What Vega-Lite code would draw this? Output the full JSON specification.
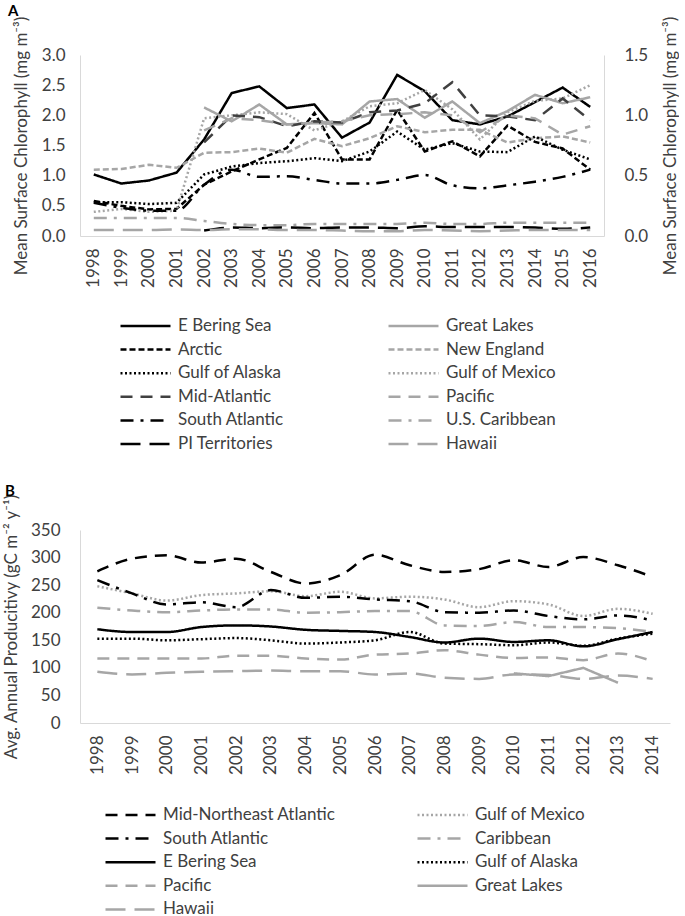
{
  "$schema": "https://vega.github.io/schema/vega-lite/v6.json",
  "padding": {"left": 2, "top": 4, "right": 0, "bottom": 0},
  "spacing": 30,
  "config": {
    "font": "Lato",
    "view": {"stroke": null},
    "axis": {"domainColor": "#d9d9d9", "domainWidth": 1, "ticks": false, "grid": false, "labelFont": "Lato", "labelFontSize": 17, "labelColor": "#404040", "titleFont": "Lato", "titleFontSize": 17, "titleFontWeight": "normal", "titleColor": "#404040"},
    "legend": {"labelFont": "Lato", "labelFontSize": 17, "labelColor": "#404040", "symbolType": "stroke", "symbolSize": 2500, "symbolStrokeWidth": 2.5, "labelOffset": 6, "rowPadding": 5.6, "clipHeight": 18, "labelLimit": 300},
    "title": {"font": "Lato", "fontSize": 15, "fontWeight": "bold", "color": "#000000"}
  },
  "datasets": {
    "A": [
      {"Region": "E Bering Sea", "Year": 1998, "Chl": 1.02, "Side": "L"}, {"Region": "E Bering Sea", "Year": 1999, "Chl": 0.87, "Side": "L"}, {"Region": "E Bering Sea", "Year": 2000, "Chl": 0.92, "Side": "L"}, {"Region": "E Bering Sea", "Year": 2001, "Chl": 1.05, "Side": "L"}, {"Region": "E Bering Sea", "Year": 2002, "Chl": 1.6, "Side": "L"}, {"Region": "E Bering Sea", "Year": 2003, "Chl": 2.37, "Side": "L"}, {"Region": "E Bering Sea", "Year": 2004, "Chl": 2.48, "Side": "L"}, {"Region": "E Bering Sea", "Year": 2005, "Chl": 2.12, "Side": "L"}, {"Region": "E Bering Sea", "Year": 2006, "Chl": 2.18, "Side": "L"}, {"Region": "E Bering Sea", "Year": 2007, "Chl": 1.63, "Side": "L"}, {"Region": "E Bering Sea", "Year": 2008, "Chl": 1.88, "Side": "L"}, {"Region": "E Bering Sea", "Year": 2009, "Chl": 2.67, "Side": "L"}, {"Region": "E Bering Sea", "Year": 2010, "Chl": 2.4, "Side": "L"}, {"Region": "E Bering Sea", "Year": 2011, "Chl": 1.92, "Side": "L"}, {"Region": "E Bering Sea", "Year": 2012, "Chl": 1.85, "Side": "L"}, {"Region": "E Bering Sea", "Year": 2013, "Chl": 1.98, "Side": "L"}, {"Region": "E Bering Sea", "Year": 2014, "Chl": 2.22, "Side": "L"}, {"Region": "E Bering Sea", "Year": 2015, "Chl": 2.46, "Side": "L"}, {"Region": "E Bering Sea", "Year": 2016, "Chl": 2.14, "Side": "L"},
      {"Region": "Great Lakes", "Year": 2002, "Chl": 2.13, "Side": "L"}, {"Region": "Great Lakes", "Year": 2003, "Chl": 1.9, "Side": "L"}, {"Region": "Great Lakes", "Year": 2004, "Chl": 2.18, "Side": "L"}, {"Region": "Great Lakes", "Year": 2005, "Chl": 1.85, "Side": "L"}, {"Region": "Great Lakes", "Year": 2006, "Chl": 1.87, "Side": "L"}, {"Region": "Great Lakes", "Year": 2007, "Chl": 1.85, "Side": "L"}, {"Region": "Great Lakes", "Year": 2008, "Chl": 2.23, "Side": "L"}, {"Region": "Great Lakes", "Year": 2009, "Chl": 2.27, "Side": "L"}, {"Region": "Great Lakes", "Year": 2010, "Chl": 1.96, "Side": "L"}, {"Region": "Great Lakes", "Year": 2011, "Chl": 2.23, "Side": "L"}, {"Region": "Great Lakes", "Year": 2012, "Chl": 1.87, "Side": "L"}, {"Region": "Great Lakes", "Year": 2013, "Chl": 2.07, "Side": "L"}, {"Region": "Great Lakes", "Year": 2014, "Chl": 2.34, "Side": "L"}, {"Region": "Great Lakes", "Year": 2015, "Chl": 2.2, "Side": "L"}, {"Region": "Great Lakes", "Year": 2016, "Chl": 2.3, "Side": "L"},
      {"Region": "Arctic", "Year": 1998, "Chl": 0.58, "Side": "L"}, {"Region": "Arctic", "Year": 1999, "Chl": 0.5, "Side": "L"}, {"Region": "Arctic", "Year": 2000, "Chl": 0.44, "Side": "L"}, {"Region": "Arctic", "Year": 2001, "Chl": 0.45, "Side": "L"}, {"Region": "Arctic", "Year": 2002, "Chl": 0.85, "Side": "L"}, {"Region": "Arctic", "Year": 2003, "Chl": 1.07, "Side": "L"}, {"Region": "Arctic", "Year": 2004, "Chl": 1.27, "Side": "L"}, {"Region": "Arctic", "Year": 2005, "Chl": 1.46, "Side": "L"}, {"Region": "Arctic", "Year": 2006, "Chl": 2.04, "Side": "L"}, {"Region": "Arctic", "Year": 2007, "Chl": 1.27, "Side": "L"}, {"Region": "Arctic", "Year": 2008, "Chl": 1.27, "Side": "L"}, {"Region": "Arctic", "Year": 2009, "Chl": 2.09, "Side": "L"}, {"Region": "Arctic", "Year": 2010, "Chl": 1.4, "Side": "L"}, {"Region": "Arctic", "Year": 2011, "Chl": 1.57, "Side": "L"}, {"Region": "Arctic", "Year": 2012, "Chl": 1.32, "Side": "L"}, {"Region": "Arctic", "Year": 2013, "Chl": 1.83, "Side": "L"}, {"Region": "Arctic", "Year": 2014, "Chl": 1.56, "Side": "L"}, {"Region": "Arctic", "Year": 2015, "Chl": 1.45, "Side": "L"}, {"Region": "Arctic", "Year": 2016, "Chl": 1.1, "Side": "L"},
      {"Region": "New England", "Year": 1998, "Chl": 1.1, "Side": "L"}, {"Region": "New England", "Year": 1999, "Chl": 1.11, "Side": "L"}, {"Region": "New England", "Year": 2000, "Chl": 1.18, "Side": "L"}, {"Region": "New England", "Year": 2001, "Chl": 1.13, "Side": "L"}, {"Region": "New England", "Year": 2002, "Chl": 1.38, "Side": "L"}, {"Region": "New England", "Year": 2003, "Chl": 1.39, "Side": "L"}, {"Region": "New England", "Year": 2004, "Chl": 1.45, "Side": "L"}, {"Region": "New England", "Year": 2005, "Chl": 1.38, "Side": "L"}, {"Region": "New England", "Year": 2006, "Chl": 1.61, "Side": "L"}, {"Region": "New England", "Year": 2007, "Chl": 1.49, "Side": "L"}, {"Region": "New England", "Year": 2008, "Chl": 1.62, "Side": "L"}, {"Region": "New England", "Year": 2009, "Chl": 1.82, "Side": "L"}, {"Region": "New England", "Year": 2010, "Chl": 1.72, "Side": "L"}, {"Region": "New England", "Year": 2011, "Chl": 1.76, "Side": "L"}, {"Region": "New England", "Year": 2012, "Chl": 1.76, "Side": "L"}, {"Region": "New England", "Year": 2013, "Chl": 1.55, "Side": "L"}, {"Region": "New England", "Year": 2014, "Chl": 1.62, "Side": "L"}, {"Region": "New England", "Year": 2015, "Chl": 1.65, "Side": "L"}, {"Region": "New England", "Year": 2016, "Chl": 1.55, "Side": "L"},
      {"Region": "Gulf of Alaska", "Year": 1998, "Chl": 0.56, "Side": "L"}, {"Region": "Gulf of Alaska", "Year": 1999, "Chl": 0.56, "Side": "L"}, {"Region": "Gulf of Alaska", "Year": 2000, "Chl": 0.53, "Side": "L"}, {"Region": "Gulf of Alaska", "Year": 2001, "Chl": 0.55, "Side": "L"}, {"Region": "Gulf of Alaska", "Year": 2002, "Chl": 1.02, "Side": "L"}, {"Region": "Gulf of Alaska", "Year": 2003, "Chl": 1.15, "Side": "L"}, {"Region": "Gulf of Alaska", "Year": 2004, "Chl": 1.21, "Side": "L"}, {"Region": "Gulf of Alaska", "Year": 2005, "Chl": 1.24, "Side": "L"}, {"Region": "Gulf of Alaska", "Year": 2006, "Chl": 1.29, "Side": "L"}, {"Region": "Gulf of Alaska", "Year": 2007, "Chl": 1.24, "Side": "L"}, {"Region": "Gulf of Alaska", "Year": 2008, "Chl": 1.4, "Side": "L"}, {"Region": "Gulf of Alaska", "Year": 2009, "Chl": 1.73, "Side": "L"}, {"Region": "Gulf of Alaska", "Year": 2010, "Chl": 1.43, "Side": "L"}, {"Region": "Gulf of Alaska", "Year": 2011, "Chl": 1.54, "Side": "L"}, {"Region": "Gulf of Alaska", "Year": 2012, "Chl": 1.4, "Side": "L"}, {"Region": "Gulf of Alaska", "Year": 2013, "Chl": 1.39, "Side": "L"}, {"Region": "Gulf of Alaska", "Year": 2014, "Chl": 1.65, "Side": "L"}, {"Region": "Gulf of Alaska", "Year": 2015, "Chl": 1.43, "Side": "L"}, {"Region": "Gulf of Alaska", "Year": 2016, "Chl": 1.27, "Side": "L"},
      {"Region": "Gulf of Mexico", "Year": 1998, "Chl": 0.4, "Side": "L"}, {"Region": "Gulf of Mexico", "Year": 1999, "Chl": 0.45, "Side": "L"}, {"Region": "Gulf of Mexico", "Year": 2000, "Chl": 0.4, "Side": "L"}, {"Region": "Gulf of Mexico", "Year": 2001, "Chl": 0.42, "Side": "L"}, {"Region": "Gulf of Mexico", "Year": 2002, "Chl": 1.95, "Side": "L"}, {"Region": "Gulf of Mexico", "Year": 2003, "Chl": 2.0, "Side": "L"}, {"Region": "Gulf of Mexico", "Year": 2004, "Chl": 2.05, "Side": "L"}, {"Region": "Gulf of Mexico", "Year": 2005, "Chl": 2.02, "Side": "L"}, {"Region": "Gulf of Mexico", "Year": 2006, "Chl": 1.75, "Side": "L"}, {"Region": "Gulf of Mexico", "Year": 2007, "Chl": 1.9, "Side": "L"}, {"Region": "Gulf of Mexico", "Year": 2008, "Chl": 2.15, "Side": "L"}, {"Region": "Gulf of Mexico", "Year": 2009, "Chl": 2.2, "Side": "L"}, {"Region": "Gulf of Mexico", "Year": 2010, "Chl": 2.42, "Side": "L"}, {"Region": "Gulf of Mexico", "Year": 2011, "Chl": 2.1, "Side": "L"}, {"Region": "Gulf of Mexico", "Year": 2012, "Chl": 1.6, "Side": "L"}, {"Region": "Gulf of Mexico", "Year": 2013, "Chl": 2.05, "Side": "L"}, {"Region": "Gulf of Mexico", "Year": 2014, "Chl": 2.24, "Side": "L"}, {"Region": "Gulf of Mexico", "Year": 2015, "Chl": 2.28, "Side": "L"}, {"Region": "Gulf of Mexico", "Year": 2016, "Chl": 2.5, "Side": "L"},
      {"Region": "Mid-Atlantic", "Year": 2002, "Chl": 1.55, "Side": "L"}, {"Region": "Mid-Atlantic", "Year": 2003, "Chl": 2.0, "Side": "L"}, {"Region": "Mid-Atlantic", "Year": 2004, "Chl": 1.97, "Side": "L"}, {"Region": "Mid-Atlantic", "Year": 2005, "Chl": 1.82, "Side": "L"}, {"Region": "Mid-Atlantic", "Year": 2006, "Chl": 1.9, "Side": "L"}, {"Region": "Mid-Atlantic", "Year": 2007, "Chl": 1.88, "Side": "L"}, {"Region": "Mid-Atlantic", "Year": 2008, "Chl": 2.05, "Side": "L"}, {"Region": "Mid-Atlantic", "Year": 2009, "Chl": 2.08, "Side": "L"}, {"Region": "Mid-Atlantic", "Year": 2010, "Chl": 2.2, "Side": "L"}, {"Region": "Mid-Atlantic", "Year": 2011, "Chl": 2.55, "Side": "L"}, {"Region": "Mid-Atlantic", "Year": 2012, "Chl": 2.0, "Side": "L"}, {"Region": "Mid-Atlantic", "Year": 2013, "Chl": 1.98, "Side": "L"}, {"Region": "Mid-Atlantic", "Year": 2014, "Chl": 1.92, "Side": "L"}, {"Region": "Mid-Atlantic", "Year": 2015, "Chl": 2.28, "Side": "L"}, {"Region": "Mid-Atlantic", "Year": 2016, "Chl": 1.92, "Side": "L"},
      {"Region": "Pacific", "Year": 2002, "Chl": 1.75, "Side": "L"}, {"Region": "Pacific", "Year": 2003, "Chl": 1.95, "Side": "L"}, {"Region": "Pacific", "Year": 2004, "Chl": 1.92, "Side": "L"}, {"Region": "Pacific", "Year": 2005, "Chl": 1.85, "Side": "L"}, {"Region": "Pacific", "Year": 2006, "Chl": 1.88, "Side": "L"}, {"Region": "Pacific", "Year": 2007, "Chl": 1.9, "Side": "L"}, {"Region": "Pacific", "Year": 2008, "Chl": 2.0, "Side": "L"}, {"Region": "Pacific", "Year": 2009, "Chl": 2.02, "Side": "L"}, {"Region": "Pacific", "Year": 2010, "Chl": 2.05, "Side": "L"}, {"Region": "Pacific", "Year": 2011, "Chl": 2.0, "Side": "L"}, {"Region": "Pacific", "Year": 2012, "Chl": 1.72, "Side": "L"}, {"Region": "Pacific", "Year": 2013, "Chl": 2.0, "Side": "L"}, {"Region": "Pacific", "Year": 2014, "Chl": 1.95, "Side": "L"}, {"Region": "Pacific", "Year": 2015, "Chl": 1.68, "Side": "L"}, {"Region": "Pacific", "Year": 2016, "Chl": 1.82, "Side": "L"},
      {"Region": "South Atlantic", "Year": 1998, "Chl": 0.55, "Side": "L"}, {"Region": "South Atlantic", "Year": 1999, "Chl": 0.47, "Side": "L"}, {"Region": "South Atlantic", "Year": 2000, "Chl": 0.42, "Side": "L"}, {"Region": "South Atlantic", "Year": 2001, "Chl": 0.42, "Side": "L"}, {"Region": "South Atlantic", "Year": 2002, "Chl": 0.85, "Side": "L"}, {"Region": "South Atlantic", "Year": 2003, "Chl": 1.1, "Side": "L"}, {"Region": "South Atlantic", "Year": 2004, "Chl": 0.98, "Side": "L"}, {"Region": "South Atlantic", "Year": 2005, "Chl": 0.99, "Side": "L"}, {"Region": "South Atlantic", "Year": 2006, "Chl": 0.93, "Side": "L"}, {"Region": "South Atlantic", "Year": 2007, "Chl": 0.87, "Side": "L"}, {"Region": "South Atlantic", "Year": 2008, "Chl": 0.87, "Side": "L"}, {"Region": "South Atlantic", "Year": 2009, "Chl": 0.93, "Side": "L"}, {"Region": "South Atlantic", "Year": 2010, "Chl": 1.01, "Side": "L"}, {"Region": "South Atlantic", "Year": 2011, "Chl": 0.84, "Side": "L"}, {"Region": "South Atlantic", "Year": 2012, "Chl": 0.79, "Side": "L"}, {"Region": "South Atlantic", "Year": 2013, "Chl": 0.84, "Side": "L"}, {"Region": "South Atlantic", "Year": 2014, "Chl": 0.9, "Side": "L"}, {"Region": "South Atlantic", "Year": 2015, "Chl": 0.98, "Side": "L"}, {"Region": "South Atlantic", "Year": 2016, "Chl": 1.1, "Side": "L"},
      {"Region": "U.S. Caribbean", "Year": 1998, "Chl": 0.15, "Side": "R"}, {"Region": "U.S. Caribbean", "Year": 1999, "Chl": 0.15, "Side": "R"}, {"Region": "U.S. Caribbean", "Year": 2000, "Chl": 0.15, "Side": "R"}, {"Region": "U.S. Caribbean", "Year": 2001, "Chl": 0.15, "Side": "R"}, {"Region": "U.S. Caribbean", "Year": 2002, "Chl": 0.125, "Side": "R"}, {"Region": "U.S. Caribbean", "Year": 2003, "Chl": 0.1, "Side": "R"}, {"Region": "U.S. Caribbean", "Year": 2004, "Chl": 0.09, "Side": "R"}, {"Region": "U.S. Caribbean", "Year": 2005, "Chl": 0.09, "Side": "R"}, {"Region": "U.S. Caribbean", "Year": 2006, "Chl": 0.1, "Side": "R"}, {"Region": "U.S. Caribbean", "Year": 2007, "Chl": 0.1, "Side": "R"}, {"Region": "U.S. Caribbean", "Year": 2008, "Chl": 0.1, "Side": "R"}, {"Region": "U.S. Caribbean", "Year": 2009, "Chl": 0.1, "Side": "R"}, {"Region": "U.S. Caribbean", "Year": 2010, "Chl": 0.11, "Side": "R"}, {"Region": "U.S. Caribbean", "Year": 2011, "Chl": 0.1, "Side": "R"}, {"Region": "U.S. Caribbean", "Year": 2012, "Chl": 0.1, "Side": "R"}, {"Region": "U.S. Caribbean", "Year": 2013, "Chl": 0.11, "Side": "R"}, {"Region": "U.S. Caribbean", "Year": 2014, "Chl": 0.11, "Side": "R"}, {"Region": "U.S. Caribbean", "Year": 2015, "Chl": 0.11, "Side": "R"}, {"Region": "U.S. Caribbean", "Year": 2016, "Chl": 0.11, "Side": "R"},
      {"Region": "PI Territories", "Year": 2002, "Chl": 0.045, "Side": "R"}, {"Region": "PI Territories", "Year": 2003, "Chl": 0.07, "Side": "R"}, {"Region": "PI Territories", "Year": 2004, "Chl": 0.065, "Side": "R"}, {"Region": "PI Territories", "Year": 2005, "Chl": 0.07, "Side": "R"}, {"Region": "PI Territories", "Year": 2006, "Chl": 0.065, "Side": "R"}, {"Region": "PI Territories", "Year": 2007, "Chl": 0.07, "Side": "R"}, {"Region": "PI Territories", "Year": 2008, "Chl": 0.07, "Side": "R"}, {"Region": "PI Territories", "Year": 2009, "Chl": 0.065, "Side": "R"}, {"Region": "PI Territories", "Year": 2010, "Chl": 0.08, "Side": "R"}, {"Region": "PI Territories", "Year": 2011, "Chl": 0.075, "Side": "R"}, {"Region": "PI Territories", "Year": 2012, "Chl": 0.075, "Side": "R"}, {"Region": "PI Territories", "Year": 2013, "Chl": 0.075, "Side": "R"}, {"Region": "PI Territories", "Year": 2014, "Chl": 0.07, "Side": "R"}, {"Region": "PI Territories", "Year": 2015, "Chl": 0.06, "Side": "R"}, {"Region": "PI Territories", "Year": 2016, "Chl": 0.07, "Side": "R"},
      {"Region": "Hawaii", "Year": 1998, "Chl": 0.05, "Side": "R"}, {"Region": "Hawaii", "Year": 1999, "Chl": 0.05, "Side": "R"}, {"Region": "Hawaii", "Year": 2000, "Chl": 0.05, "Side": "R"}, {"Region": "Hawaii", "Year": 2001, "Chl": 0.055, "Side": "R"}, {"Region": "Hawaii", "Year": 2002, "Chl": 0.05, "Side": "R"}, {"Region": "Hawaii", "Year": 2003, "Chl": 0.055, "Side": "R"}, {"Region": "Hawaii", "Year": 2004, "Chl": 0.055, "Side": "R"}, {"Region": "Hawaii", "Year": 2005, "Chl": 0.05, "Side": "R"}, {"Region": "Hawaii", "Year": 2006, "Chl": 0.05, "Side": "R"}, {"Region": "Hawaii", "Year": 2007, "Chl": 0.045, "Side": "R"}, {"Region": "Hawaii", "Year": 2008, "Chl": 0.04, "Side": "R"}, {"Region": "Hawaii", "Year": 2009, "Chl": 0.04, "Side": "R"}, {"Region": "Hawaii", "Year": 2010, "Chl": 0.05, "Side": "R"}, {"Region": "Hawaii", "Year": 2011, "Chl": 0.045, "Side": "R"}, {"Region": "Hawaii", "Year": 2012, "Chl": 0.04, "Side": "R"}, {"Region": "Hawaii", "Year": 2013, "Chl": 0.045, "Side": "R"}, {"Region": "Hawaii", "Year": 2014, "Chl": 0.05, "Side": "R"}, {"Region": "Hawaii", "Year": 2015, "Chl": 0.05, "Side": "R"}, {"Region": "Hawaii", "Year": 2016, "Chl": 0.05, "Side": "R"}
    ],
    "B": [
      {"Area": "Mid-Northeast Atlantic", "Year": 1998, "NPP": 275}, {"Area": "Mid-Northeast Atlantic", "Year": 1999, "NPP": 298}, {"Area": "Mid-Northeast Atlantic", "Year": 2000, "NPP": 304}, {"Area": "Mid-Northeast Atlantic", "Year": 2001, "NPP": 291}, {"Area": "Mid-Northeast Atlantic", "Year": 2002, "NPP": 298}, {"Area": "Mid-Northeast Atlantic", "Year": 2003, "NPP": 274}, {"Area": "Mid-Northeast Atlantic", "Year": 2004, "NPP": 253}, {"Area": "Mid-Northeast Atlantic", "Year": 2005, "NPP": 268}, {"Area": "Mid-Northeast Atlantic", "Year": 2006, "NPP": 305}, {"Area": "Mid-Northeast Atlantic", "Year": 2007, "NPP": 286}, {"Area": "Mid-Northeast Atlantic", "Year": 2008, "NPP": 274}, {"Area": "Mid-Northeast Atlantic", "Year": 2009, "NPP": 279}, {"Area": "Mid-Northeast Atlantic", "Year": 2010, "NPP": 295}, {"Area": "Mid-Northeast Atlantic", "Year": 2011, "NPP": 283}, {"Area": "Mid-Northeast Atlantic", "Year": 2012, "NPP": 301}, {"Area": "Mid-Northeast Atlantic", "Year": 2013, "NPP": 286}, {"Area": "Mid-Northeast Atlantic", "Year": 2014, "NPP": 265},
      {"Area": "Gulf of Mexico", "Year": 1998, "NPP": 248}, {"Area": "Gulf of Mexico", "Year": 1999, "NPP": 235}, {"Area": "Gulf of Mexico", "Year": 2000, "NPP": 222}, {"Area": "Gulf of Mexico", "Year": 2001, "NPP": 232}, {"Area": "Gulf of Mexico", "Year": 2002, "NPP": 235}, {"Area": "Gulf of Mexico", "Year": 2003, "NPP": 239}, {"Area": "Gulf of Mexico", "Year": 2004, "NPP": 230}, {"Area": "Gulf of Mexico", "Year": 2005, "NPP": 238}, {"Area": "Gulf of Mexico", "Year": 2006, "NPP": 226}, {"Area": "Gulf of Mexico", "Year": 2007, "NPP": 229}, {"Area": "Gulf of Mexico", "Year": 2008, "NPP": 224}, {"Area": "Gulf of Mexico", "Year": 2009, "NPP": 210}, {"Area": "Gulf of Mexico", "Year": 2010, "NPP": 221}, {"Area": "Gulf of Mexico", "Year": 2011, "NPP": 215}, {"Area": "Gulf of Mexico", "Year": 2012, "NPP": 194}, {"Area": "Gulf of Mexico", "Year": 2013, "NPP": 207}, {"Area": "Gulf of Mexico", "Year": 2014, "NPP": 198},
      {"Area": "South Atlantic", "Year": 1998, "NPP": 259}, {"Area": "South Atlantic", "Year": 1999, "NPP": 235}, {"Area": "South Atlantic", "Year": 2000, "NPP": 215}, {"Area": "South Atlantic", "Year": 2001, "NPP": 219}, {"Area": "South Atlantic", "Year": 2002, "NPP": 210}, {"Area": "South Atlantic", "Year": 2003, "NPP": 241}, {"Area": "South Atlantic", "Year": 2004, "NPP": 227}, {"Area": "South Atlantic", "Year": 2005, "NPP": 229}, {"Area": "South Atlantic", "Year": 2006, "NPP": 224}, {"Area": "South Atlantic", "Year": 2007, "NPP": 221}, {"Area": "South Atlantic", "Year": 2008, "NPP": 201}, {"Area": "South Atlantic", "Year": 2009, "NPP": 200}, {"Area": "South Atlantic", "Year": 2010, "NPP": 204}, {"Area": "South Atlantic", "Year": 2011, "NPP": 194}, {"Area": "South Atlantic", "Year": 2012, "NPP": 188}, {"Area": "South Atlantic", "Year": 2013, "NPP": 195}, {"Area": "South Atlantic", "Year": 2014, "NPP": 186},
      {"Area": "Caribbean", "Year": 1998, "NPP": 209}, {"Area": "Caribbean", "Year": 1999, "NPP": 204}, {"Area": "Caribbean", "Year": 2000, "NPP": 201}, {"Area": "Caribbean", "Year": 2001, "NPP": 204}, {"Area": "Caribbean", "Year": 2002, "NPP": 206}, {"Area": "Caribbean", "Year": 2003, "NPP": 206}, {"Area": "Caribbean", "Year": 2004, "NPP": 200}, {"Area": "Caribbean", "Year": 2005, "NPP": 201}, {"Area": "Caribbean", "Year": 2006, "NPP": 203}, {"Area": "Caribbean", "Year": 2007, "NPP": 203}, {"Area": "Caribbean", "Year": 2008, "NPP": 177}, {"Area": "Caribbean", "Year": 2009, "NPP": 176}, {"Area": "Caribbean", "Year": 2010, "NPP": 183}, {"Area": "Caribbean", "Year": 2011, "NPP": 174}, {"Area": "Caribbean", "Year": 2012, "NPP": 174}, {"Area": "Caribbean", "Year": 2013, "NPP": 172}, {"Area": "Caribbean", "Year": 2014, "NPP": 165},
      {"Area": "E Bering Sea", "Year": 1998, "NPP": 170}, {"Area": "E Bering Sea", "Year": 1999, "NPP": 165}, {"Area": "E Bering Sea", "Year": 2000, "NPP": 165}, {"Area": "E Bering Sea", "Year": 2001, "NPP": 174}, {"Area": "E Bering Sea", "Year": 2002, "NPP": 177}, {"Area": "E Bering Sea", "Year": 2003, "NPP": 175}, {"Area": "E Bering Sea", "Year": 2004, "NPP": 169}, {"Area": "E Bering Sea", "Year": 2005, "NPP": 167}, {"Area": "E Bering Sea", "Year": 2006, "NPP": 165}, {"Area": "E Bering Sea", "Year": 2007, "NPP": 156}, {"Area": "E Bering Sea", "Year": 2008, "NPP": 146}, {"Area": "E Bering Sea", "Year": 2009, "NPP": 153}, {"Area": "E Bering Sea", "Year": 2010, "NPP": 147}, {"Area": "E Bering Sea", "Year": 2011, "NPP": 150}, {"Area": "E Bering Sea", "Year": 2012, "NPP": 139}, {"Area": "E Bering Sea", "Year": 2013, "NPP": 152}, {"Area": "E Bering Sea", "Year": 2014, "NPP": 165},
      {"Area": "Gulf of Alaska", "Year": 1998, "NPP": 153}, {"Area": "Gulf of Alaska", "Year": 1999, "NPP": 153}, {"Area": "Gulf of Alaska", "Year": 2000, "NPP": 150}, {"Area": "Gulf of Alaska", "Year": 2001, "NPP": 152}, {"Area": "Gulf of Alaska", "Year": 2002, "NPP": 154}, {"Area": "Gulf of Alaska", "Year": 2003, "NPP": 150}, {"Area": "Gulf of Alaska", "Year": 2004, "NPP": 144}, {"Area": "Gulf of Alaska", "Year": 2005, "NPP": 146}, {"Area": "Gulf of Alaska", "Year": 2006, "NPP": 150}, {"Area": "Gulf of Alaska", "Year": 2007, "NPP": 165}, {"Area": "Gulf of Alaska", "Year": 2008, "NPP": 144}, {"Area": "Gulf of Alaska", "Year": 2009, "NPP": 143}, {"Area": "Gulf of Alaska", "Year": 2010, "NPP": 141}, {"Area": "Gulf of Alaska", "Year": 2011, "NPP": 146}, {"Area": "Gulf of Alaska", "Year": 2012, "NPP": 140}, {"Area": "Gulf of Alaska", "Year": 2013, "NPP": 153}, {"Area": "Gulf of Alaska", "Year": 2014, "NPP": 162},
      {"Area": "Pacific", "Year": 1998, "NPP": 117}, {"Area": "Pacific", "Year": 1999, "NPP": 117}, {"Area": "Pacific", "Year": 2000, "NPP": 117}, {"Area": "Pacific", "Year": 2001, "NPP": 117}, {"Area": "Pacific", "Year": 2002, "NPP": 122}, {"Area": "Pacific", "Year": 2003, "NPP": 122}, {"Area": "Pacific", "Year": 2004, "NPP": 117}, {"Area": "Pacific", "Year": 2005, "NPP": 115}, {"Area": "Pacific", "Year": 2006, "NPP": 124}, {"Area": "Pacific", "Year": 2007, "NPP": 126}, {"Area": "Pacific", "Year": 2008, "NPP": 132}, {"Area": "Pacific", "Year": 2009, "NPP": 124}, {"Area": "Pacific", "Year": 2010, "NPP": 118}, {"Area": "Pacific", "Year": 2011, "NPP": 119}, {"Area": "Pacific", "Year": 2012, "NPP": 114}, {"Area": "Pacific", "Year": 2013, "NPP": 126}, {"Area": "Pacific", "Year": 2014, "NPP": 112},
      {"Area": "Great Lakes", "Year": 2010, "NPP": 90}, {"Area": "Great Lakes", "Year": 2011, "NPP": 85}, {"Area": "Great Lakes", "Year": 2012, "NPP": 100}, {"Area": "Great Lakes", "Year": 2013, "NPP": 73},
      {"Area": "Hawaii", "Year": 1998, "NPP": 93}, {"Area": "Hawaii", "Year": 1999, "NPP": 88}, {"Area": "Hawaii", "Year": 2000, "NPP": 91}, {"Area": "Hawaii", "Year": 2001, "NPP": 93}, {"Area": "Hawaii", "Year": 2002, "NPP": 94}, {"Area": "Hawaii", "Year": 2003, "NPP": 95}, {"Area": "Hawaii", "Year": 2004, "NPP": 94}, {"Area": "Hawaii", "Year": 2005, "NPP": 94}, {"Area": "Hawaii", "Year": 2006, "NPP": 88}, {"Area": "Hawaii", "Year": 2007, "NPP": 90}, {"Area": "Hawaii", "Year": 2008, "NPP": 82}, {"Area": "Hawaii", "Year": 2009, "NPP": 80}, {"Area": "Hawaii", "Year": 2010, "NPP": 88}, {"Area": "Hawaii", "Year": 2011, "NPP": 87}, {"Area": "Hawaii", "Year": 2012, "NPP": 80}, {"Area": "Hawaii", "Year": 2013, "NPP": 86}, {"Area": "Hawaii", "Year": 2014, "NPP": 80}
    ]
  },
  "vconcat": [
    {
      "width": 524,
      "height": 181,
      "data": {"name": "A"},
      "title": {"text": "A", "anchor": "start", "frame": "group", "dx": -72, "offset": -3},
      "encoding": {
        "x": {"field": "Year", "type": "ordinal", "scale": {"type": "point", "padding": 0.5}, "axis": {"title": null, "labelAngle": -90, "labelPadding": 12}},
        "color": {
          "field": "Region", "type": "nominal",
          "scale": {"domain": ["E Bering Sea", "Arctic", "Gulf of Alaska", "Mid-Atlantic", "South Atlantic", "PI Territories", "Great Lakes", "New England", "Gulf of Mexico", "Pacific", "U.S. Caribbean", "Hawaii"],
                    "range": ["#000000", "#000000", "#000000", "#404040", "#000000", "#000000", "#a6a6a6", "#a6a6a6", "#a6a6a6", "#a6a6a6", "#a6a6a6", "#a6a6a6"]},
          "legend": {"orient": "none", "legendX": 39, "legendY": 262, "columns": 2, "columnPadding": 103, "title": null}
        },
        "strokeDash": {
          "field": "Region", "type": "nominal",
          "scale": {"domain": ["E Bering Sea", "Arctic", "Gulf of Alaska", "Mid-Atlantic", "South Atlantic", "PI Territories", "Great Lakes", "New England", "Gulf of Mexico", "Pacific", "U.S. Caribbean", "Hawaii"],
                    "range": [[1, 0], [6, 3], [2, 2.5], [12, 8], [13, 7, 3, 7], [20, 9], [1, 0], [6, 3], [2, 2.5], [12, 8], [13, 7, 3, 7], [20, 9]]},
          "legend": {"orient": "none", "legendX": 39, "legendY": 262, "columns": 2, "columnPadding": 103, "title": null}
        }
      },
      "layer": [
        {
          "encoding": {
            "y": {"field": "Chl", "type": "quantitative", "scale": {"domain": [0, 3]},
                  "axis": {"values": [0, 0.5, 1, 1.5, 2, 2.5, 3], "format": ".1f", "labelPadding": 15, "titlePadding": 11, "title": "Mean Surface Chlorophyll (mg m⁻³)"}}
          },
          "layer": [
            {"transform": [{"filter": "datum.Side === 'L' && datum.Region !== 'South Atlantic'"}], "mark": {"type": "line", "strokeWidth": 2.5, "interpolate": "linear"}},
            {"transform": [{"filter": "datum.Region === 'South Atlantic'"}], "mark": {"type": "line", "strokeWidth": 2.5, "interpolate": "monotone"}}
          ]
        },
        {
          "transform": [{"filter": "datum.Side === 'R'"}],
          "mark": {"type": "line", "strokeWidth": 2.5, "interpolate": "monotone"},
          "encoding": {
            "y": {"field": "Chl", "type": "quantitative", "scale": {"domain": [0, 1.5]},
                  "axis": {"orient": "right", "values": [0, 0.5, 1, 1.5], "format": ".1f", "labelPadding": 20, "titlePadding": 32, "titleAngle": 270, "title": "Mean Surface Chlorophyll (mg m⁻³)"}}
          }
        }
      ],
      "resolve": {"scale": {"y": "independent"}}
    },
    {
      "width": 590,
      "height": 193,
      "data": {"name": "B"},
      "title": {"text": "B", "anchor": "start", "frame": "group", "dx": -75, "offset": -5},
      "encoding": {
        "x": {"field": "Year", "type": "ordinal", "scale": {"type": "point", "padding": 0.5}, "axis": {"title": null, "labelAngle": -90, "labelPadding": 12}},
        "y": {"field": "NPP", "type": "quantitative", "scale": {"domain": [0, 350]},
              "axis": {"values": [0, 50, 100, 150, 200, 250, 300, 350], "labelPadding": 20, "titlePadding": 10, "title": "Avg. Annual Producitivy (gC m⁻² y⁻¹)"}},
        "color": {
          "field": "Area", "type": "nominal",
          "scale": {"domain": ["Mid-Northeast Atlantic", "South Atlantic", "E Bering Sea", "Pacific", "Hawaii", "Gulf of Mexico", "Caribbean", "Gulf of Alaska", "Great Lakes"],
                    "range": ["#000000", "#000000", "#000000", "#a6a6a6", "#a6a6a6", "#a6a6a6", "#a6a6a6", "#000000", "#a6a6a6"]},
          "legend": {"orient": "none", "legendX": 24, "legendY": 276, "columns": 2, "columnPadding": 80, "title": null}
        },
        "strokeDash": {
          "field": "Area", "type": "nominal",
          "scale": {"domain": ["Mid-Northeast Atlantic", "South Atlantic", "E Bering Sea", "Pacific", "Hawaii", "Gulf of Mexico", "Caribbean", "Gulf of Alaska", "Great Lakes"],
                    "range": [[12, 8], [13, 7, 3, 7], [1, 0], [12, 8], [20, 9], [2, 2.5], [13, 7, 3, 7], [2, 2.5], [1, 0]]},
          "legend": {"orient": "none", "legendX": 24, "legendY": 276, "columns": 2, "columnPadding": 80, "title": null}
        }
      },
      "layer": [
        {"transform": [{"filter": "datum.Area !== 'Great Lakes'"}], "mark": {"type": "line", "strokeWidth": 2.5, "interpolate": "monotone"}},
        {"transform": [{"filter": "datum.Area === 'Great Lakes'"}], "mark": {"type": "line", "strokeWidth": 2.5, "interpolate": "linear"}}
      ]
    }
  ],
  "resolve": {"scale": {"color": "independent", "strokeDash": "independent"}, "legend": {"color": "independent", "strokeDash": "independent"}}
}
